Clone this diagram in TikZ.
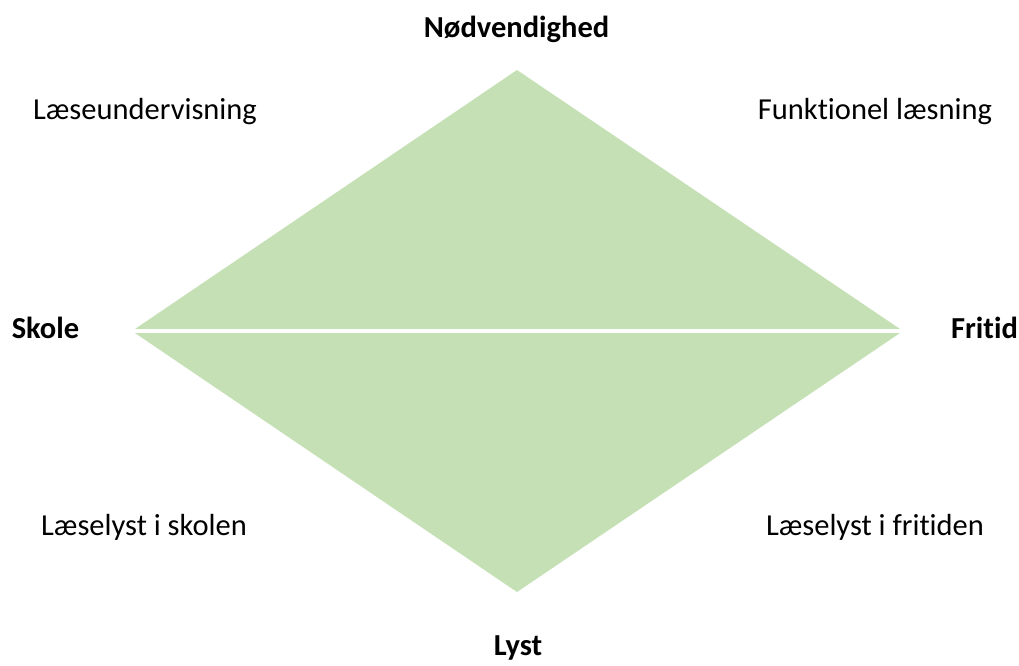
\documentclass[tikz,border=0pt]{standalone}
\usepackage{fontspec}
\setmainfont{Carlito}[Ligatures=NoCommon]
\usepackage{tikz}
\tikzset{>=latex}
\usetikzlibrary{calc,positioning}
\definecolor{leafgreen}{RGB}{197,224,180}

\begin{document}
\begin{tikzpicture}[x=1pt, y=-1pt,
    lbl/.style={inner sep=0pt, anchor=base, font=\fontsize{30.5}{36}\selectfont},
    hd/.style={lbl, font=\fontsize{30.5}{36}\selectfont\bfseries}]
            \useasboundingbox (0,0) rectangle (1019,665);

            \coordinate (top) at (517,70);
            \coordinate (left) at (132,331);
            \coordinate (right) at (903,331);
            \coordinate (bottom) at (517,592);

            \fill[leafgreen] (top) -- (right) -- (bottom) -- (left) -- cycle;
            \draw[white, line width=4.5pt] (left) -- (right);

            \node[hd] (need) at (516.5,37) {Nødvendighed};
            \node[hd] (lust) at (518,655) {Lyst};
            \node[hd] (school) at (45.5,338) {Skole};
            \node[hd] (spare) at (984.5,338) {Fritid};

            \node[lbl] (teach) at (145,119) {Læseundervisning};
            \node[lbl] (func) at (875,119) {Funktionel læsning};
            \node[lbl] (joyschool) at (144,535) {Læselyst i skolen};
            \node[lbl] (joyspare) at (875,535) {Læselyst i fritiden};
\end{tikzpicture}
\end{document}
